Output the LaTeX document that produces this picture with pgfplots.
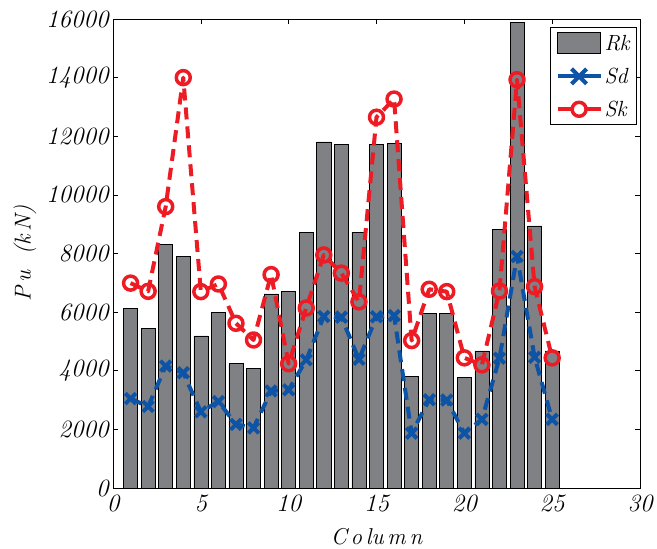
\documentclass[border=0pt]{standalone}
\usepackage{pgfplots}
\pgfplotsset{compat=1.18}
\definecolor{barg}{RGB}{128,129,132}
\definecolor{sdblue}{RGB}{13,84,166}
\definecolor{skred}{RGB}{237,28,36}
\newcommand{\tkf}{\fontsize{25}{28}\selectfont\itshape}
\newcommand{\lgf}{\fontsize{22}{26}\selectfont\itshape}
\newcommand{\lbf}{\fontsize{23}{26}\selectfont\itshape}
\pgfplotsset{
  rkleg/.style={legend image code/.code={\draw[solid, fill=barg, draw=black, line width=0.6pt] (0bp,-10bp) rectangle (43bp,11bp);}},
  sdleg/.style={legend image code/.code={\draw[solid, sdblue, line width=4bp] (0bp,0bp) -- (43bp,0bp); \draw[solid, sdblue, line width=4bp] (14bp,-7.5bp) -- (29bp,7.5bp) (14bp,7.5bp) -- (29bp,-7.5bp);}},
  skleg/.style={legend image code/.code={\draw[solid, skred, line width=4bp] (0bp,0bp) -- (14bp,0bp) (29bp,0bp) -- (43bp,0bp); \draw[solid, skred, line width=3.5bp] (21.5bp,0bp) circle (7bp);}},
}
\begin{document}
\begin{tikzpicture}
\begin{axis}[
  scale only axis,
  width=527bp, height=469bp,
  xmin=0, xmax=30, ymin=0, ymax=16000,
  scaled ticks=false,
  xtick={0,5,...,30},
  ytick={0,2000,...,16000},
  xticklabels={{\tkf 0},{\tkf 5},{\tkf 10},{\tkf 15},{\tkf 20},{\tkf 25},{\tkf 30}},
  yticklabels={{\tkf 0},{\tkf 2000},{\tkf 4000},{\tkf 6000},{\tkf 8000},{\tkf 10000},{\tkf 12000},{\tkf 14000},{\tkf 16000}},
  xticklabel style={yshift=-3bp},
  yticklabel style={xshift=-1bp},
  tick align=inside,
  major tick length=5bp,
  tick style={black, line width=0.6pt},
  axis line style={black, line width=0.8pt},
  xlabel={C\,o\,lu\,m\,n},
  ylabel={P\,u\ \ (k\,N)},
  xlabel style={font=\lbf, at={(axis description cs:0.5,-0.104)}, anchor=center},
  ylabel style={font=\lbf, at={(axis description cs:-0.167,0.5)}, anchor=center},
  legend style={at={(0.994,0.983)}, anchor=north east, draw=black, line width=0.6pt,
    row sep=12bp, inner sep=5bp},
  legend cell align=left,
]
\addplot[ybar, bar width=0.8, fill=barg, draw=black, line width=0.6pt, rkleg] coordinates {
(1,6130) (2,5450) (3,8310) (4,7910) (5,5190) (6,6000) (7,4240) (8,4090) (9,6620) (10,6700)
(11,8730) (12,11810) (13,11720) (14,8730) (15,11720) (16,11760) (17,3800) (18,5960) (19,5960)
(20,3770) (21,4680) (22,8830) (23,15880) (24,8940) (25,4680)
};
\addlegendentry{\lgf Rk}
\addplot[sdblue, line width=4bp, line join=round, dash pattern=on 12bp off 7bp, mark=x, mark size=7.5bp,
  mark options={solid, line width=4bp}, sdleg] coordinates {
(1,3050) (2,2780) (3,4160) (4,3930) (5,2600) (6,2950) (7,2170) (8,2050) (9,3310) (10,3350)
(11,4370) (12,5850) (13,5830) (14,4390) (15,5840) (16,5880) (17,1870) (18,3010) (19,3000)
(20,1870) (21,2340) (22,4430) (23,7900) (24,4460) (25,2340)
};
\addlegendentry{\lgf Sd}
\addplot[skred, line width=4bp, line join=round, dash pattern=on 12bp off 7bp, mark=o, mark size=7bp,
  mark options={solid, line width=3.5bp}, skleg] coordinates {
(1,6990) (2,6710) (3,9600) (4,14000) (5,6700) (6,6960) (7,5620) (8,5050) (9,7280) (10,4240)
(11,6140) (12,7950) (13,7330) (14,6350) (15,12650) (16,13270) (17,5030) (18,6780) (19,6700)
(20,4440) (21,4200) (22,6720) (23,13930) (24,6870) (25,4440)
};
\addlegendentry{\lgf Sk}
\end{axis}
\path ([xshift=-113bp,yshift=-61bp]current axis.south west) rectangle ([xshift=17bp,yshift=19bp]current axis.north east);
\end{tikzpicture}
\end{document}
